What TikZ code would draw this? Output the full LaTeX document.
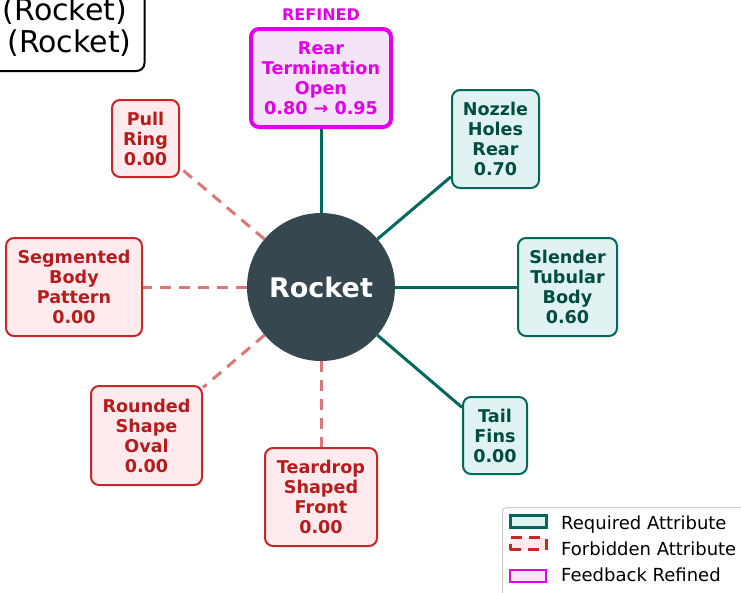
\documentclass[tikz,border=0pt]{standalone}
\usepackage{fontspec}
\setmainfont{DejaVu Sans}
\definecolor{reqc}{HTML}{00695C}
\definecolor{reqtext}{HTML}{004D40}
\definecolor{reqfill}{HTML}{E0F2F1}
\definecolor{forbc}{HTML}{C62828}
\definecolor{forbtext}{HTML}{B71C1C}
\definecolor{forbfill}{HTML}{FFEBEE}
\definecolor{forblc}{HTML}{D87878}
\definecolor{refc}{HTML}{E000E6}
\definecolor{reffill}{HTML}{F3E5F5}
\definecolor{hubc}{HTML}{37474F}
\begin{document}
\begin{tikzpicture}[x=1pt,y=-1pt,
  box/.style={rectangle, rounded corners=8pt, inner sep=0pt, align=center,
    font=\bfseries\fontsize{17.6}{20}\selectfont},
  req/.style={box, draw=reqc, fill=reqfill, text=reqtext, line width=2pt},
  forb/.style={box, draw=forbc, fill=forbfill, text=forbtext, line width=2pt},
  refd/.style={box, draw=refc, fill=reffill, text=refc, line width=4pt},
  reqline/.style={draw=reqc, line width=3pt},
  forbl/.style={draw=forblc, line width=3pt, dash pattern=on 11pt off 8pt},
  legtext/.style={anchor=base west, inner sep=0pt, font=\fontsize{18}{20}\selectfont},
  legpatch/.style={rectangle, inner sep=0pt, minimum width=36pt, minimum height=12pt}
]
\useasboundingbox (0,0) rectangle (741,592);

% title box (partly outside)
\node[draw=black, line width=2pt, rounded corners=8pt, fill=white,
  minimum width=175pt, minimum height=110pt, inner sep=0pt] (title) at (57,16) {};
\node[inner sep=0pt, font=\fontsize{30}{32}\selectfont, anchor=base] (t1) at (65,20) {(Rocket)};
\node[inner sep=0pt, font=\fontsize{30}{32}\selectfont, anchor=base] (t2) at (69.5,52) {(Rocket)};

% hub
\node[circle, fill=hubc, minimum size=148pt, inner sep=0pt, text=white,
  font=\bfseries\fontsize{27}{30}\selectfont] (hub) at (321,287) {Rocket};

% attribute nodes
\node[refd, minimum width=140pt, minimum height=98pt] (rear) at (321,78)
  {Rear\\Termination\\Open\\0.80 → 0.95};
\node[anchor=base, inner sep=0pt, text=refc, font=\bfseries\fontsize{16}{18}\selectfont] (reflab) at (321,20) {REFINED};
\node[req, minimum width=87pt, minimum height=98pt] (nozzle) at (495.5,139)
  {Nozzle\\Holes\\Rear\\0.70};
\node[req, minimum width=99pt, minimum height=98pt] (slender) at (567.5,287)
  {Slender\\Tubular\\Body\\0.60};
\node[req, minimum width=64pt, minimum height=77pt] (tail) at (495,435.5)
  {Tail\\Fins\\0.00};
\node[forb, minimum width=112pt, minimum height=98pt] (tear) at (321,497)
  {Teardrop\\Shaped\\Front\\0.00};
\node[forb, minimum width=111pt, minimum height=99pt] (round) at (146.5,435.5)
  {Rounded\\Shape\\Oval\\0.00};
\node[forb, minimum width=136pt, minimum height=98pt] (seg) at (74,287)
  {Segmented\\Body\\Pattern\\0.00};
\node[forb, minimum width=67pt, minimum height=77pt] (pull) at (145.5,138.5)
  {Pull\\Ring\\0.00};

% connectors
\draw[reqline] (hub) -- (rear);
\draw[reqline] (hub) -- (nozzle);
\draw[reqline] (hub) -- (slender);
\draw[reqline] (hub) -- (tail);
\draw[forbl] (hub) -- (tear);
\draw[forbl] (hub) -- (round);
\draw[forbl] (hub) -- (seg);
\draw[forbl] (hub) -- (pull);

% legend
\node[draw={rgb,255:red,204;green,204;blue,204}, line width=1pt, fill=white, rounded corners=4pt,
  minimum width=250pt, minimum height=90pt, inner sep=0pt, anchor=north west] (legend) at (502,507) {};
\node[legpatch, draw=reqc, fill=reqfill, line width=3pt] (lp1) at (528,521.5) {};
\node[legpatch, draw=forbc, fill=forbfill, line width=3pt, dash pattern=on 11pt off 7pt] (lp2) at (528,543.5) {};
\node[legpatch, draw=refc, fill=reffill, line width=2pt] (lp3) at (528,576) {};
\node[legtext] (lt1) at (561,529) {Required Attribute};
\node[legtext] (lt2) at (561,555.5) {Forbidden Attribute};
\node[legtext] (lt3) at (561,581.5) {Feedback Refined};
\end{tikzpicture}
\end{document}
